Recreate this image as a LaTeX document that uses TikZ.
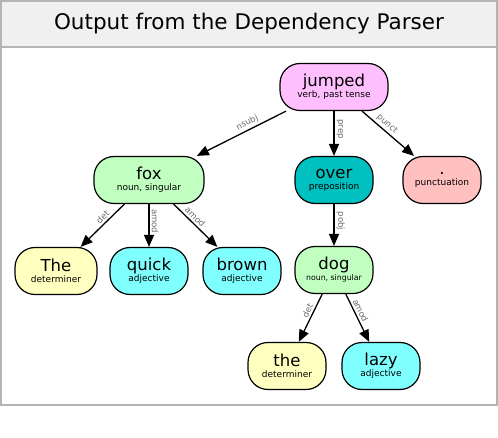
\documentclass[tikz,border=0pt]{standalone}
\usepackage{fontspec}
\setmainfont{DejaVu Sans}
\usetikzlibrary{arrows.meta}

\definecolor{verbpink}{HTML}{FFBFFF}
\definecolor{nounGreen}{HTML}{C0FFC0}
\definecolor{prepTeal}{HTML}{00C0C0}
\definecolor{punctPink}{HTML}{FFC0C0}
\definecolor{detYellow}{HTML}{FFFFC0}
\definecolor{adjCyan}{HTML}{80FFFF}
\definecolor{titleGray}{HTML}{F0F0F0}
\definecolor{frameGray}{HTML}{B4B4B4}
\definecolor{relGray}{HTML}{686868}

\newcommand{\tok}[2]{{\fontsize{16.5}{18}\selectfont #1}\\[-1pt]{\fontsize{9}{10.5}\selectfont #2}}

\begin{document}
\begin{tikzpicture}[x=1pt,y=-1pt,
    word/.style={draw, line width=1.2pt, rounded corners=20pt, align=center,
        minimum width=78pt, minimum height=47pt, inner xsep=4pt, inner ysep=3pt},
    dep/.style={line width=1.3pt, -{Triangle[length=12pt,width=10pt]}},
    rel/.style={pos=0.4, sloped, above, inner sep=2pt, text=relGray, font=\fontsize{8.5}{9}\selectfont}]
    \useasboundingbox (0,0) rectangle (498,438);

    % frame and title
    \fill[titleGray] (1,1) rectangle (497,47);
    \draw[frameGray, line width=1.5pt] (1,1) rectangle (497,405);
    \draw[frameGray, line width=1.5pt] (1,47) -- (497,47);
    \node (title) at (249,24) {\fontsize{21.5}{24}\selectfont Output from the Dependency Parser};

    % words
    \node[word, fill=verbpink, minimum width=108pt] (jumped) at (334,87) {\tok{jumped}{verb, past tense}};
    \node[word, fill=nounGreen, minimum width=110pt] (fox) at (149,180) {\tok{fox}{noun, singular}};
    \node[word, fill=prepTeal] (over) at (334,180) {\tok{over}{preposition}};
    \node[word, fill=punctPink] (punct) at (442,180) {\tok{.}{punctuation}};
    \node[word, fill=detYellow, minimum width=82pt] (The) at (56,271) {\tok{The}{determiner}};
    \node[word, fill=adjCyan] (quick) at (149,271) {\tok{quick}{adjective}};
    \node[word, fill=adjCyan] (brown) at (242,271) {\tok{brown}{adjective}};
    \node[word, fill=nounGreen] (dog) at (334,270) {\tok{dog}{\fontsize{7.8}{9}\selectfont noun, singular}};
    \node[word, fill=detYellow] (the) at (287,366) {\tok{the}{determiner}};
    \node[word, fill=adjCyan] (lazy) at (381,366) {\tok{lazy}{adjective}};

    % dependencies
    \draw[dep] (jumped) -- (fox) node[rel] {nsubj};
    \draw[dep] (jumped) -- (over) node[rel] {prep};
    \draw[dep] (jumped) -- (punct) node[rel] {punct};
    \draw[dep] (fox) -- (The) node[rel] {det};
    \draw[dep] (fox) -- (quick) node[rel] {amod};
    \draw[dep] (fox) -- (brown) node[rel] {amod};
    \draw[dep] (over) -- (dog) node[rel] {pobj};
    \draw[dep] (dog) -- (the) node[rel] {det};
    \draw[dep] (dog) -- (lazy) node[rel] {amod};

\end{tikzpicture}
\end{document}
